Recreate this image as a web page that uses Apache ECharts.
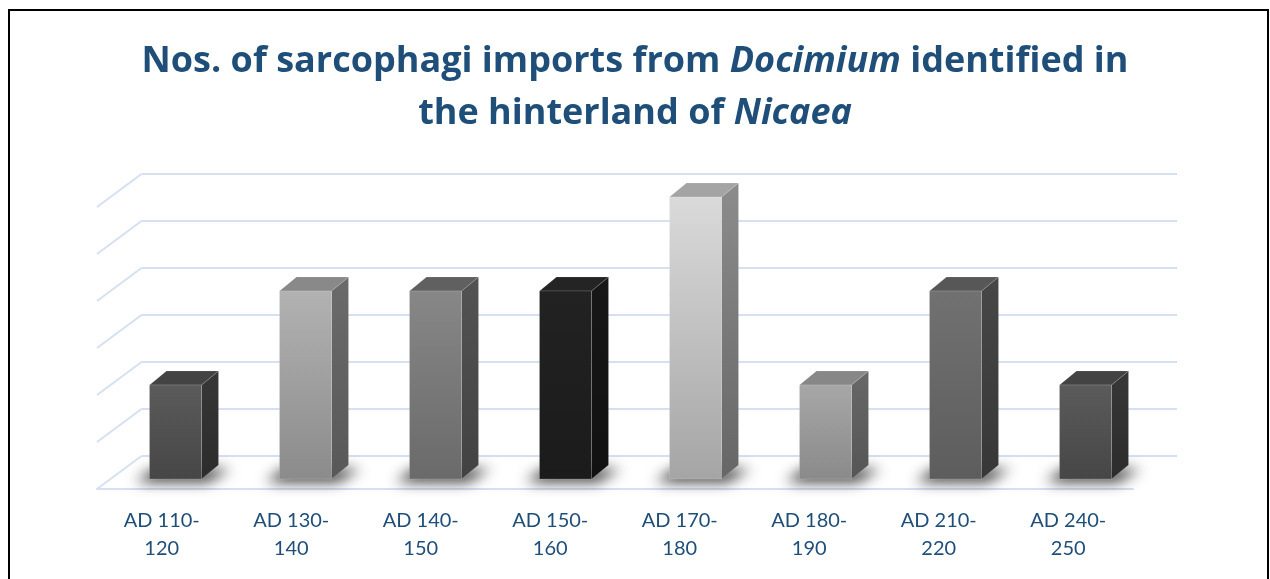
<!DOCTYPE html>
<html>
<head>
<meta charset="utf-8">
<script src="https://cdn.jsdelivr.net/npm/echarts@6/dist/echarts.min.js"></script>
<style>
  html, body { margin: 0; padding: 0; background: #ffffff; }
  #chart { width: 1270px; height: 579px; }
</style>
</head>
<body>
<div id="chart"></div>
<script>
// Periods (category axis) and number of imported sarcophagi per period
const periods = ['AD 110-\n120', 'AD 130-\n140', 'AD 140-\n150', 'AD 150-\n160',
                 'AD 170-\n180', 'AD 180-\n190', 'AD 210-\n220', 'AD 240-\n250'];
const imports = [2, 4, 4, 4, 6, 2, 4, 2];
const valueTicks = [0, 1, 2, 3, 4, 5, 6];

// Grey shades for the faces of each box: front gradient, side gradient, top
const shades = [
  { front: ['#5b5b5b', '#464646'], side: ['#373737', '#2c2c2c'], top: '#434343' },
  { front: ['#b2b2b2', '#8b8b8b'], side: ['#6b6b6b', '#585858'], top: '#898989' },
  { front: ['#878787', '#6a6a6a'], side: ['#535353', '#424242'], top: '#606060' },
  { front: ['#222222', '#1b1b1b'], side: ['#171717', '#111111'], top: '#242424' },
  { front: ['#dadada', '#a5a5a5'], side: ['#8c8c8c', '#666666'], top: '#a4a4a4' },
  { front: ['#a7a7a7', '#8a8a8a'], side: ['#686868', '#555555'], top: '#878787' },
  { front: ['#717171', '#5d5d5d'], side: ['#474747', '#373737'], top: '#575757' },
  { front: ['#5b5b5b', '#464646'], side: ['#373737', '#2c2c2c'], top: '#434343' }
];

const GRID_COLOR = '#d6e0f1';
const TEXT_COLOR = '#1f4e79';
const DEPTH_X = 17, DEPTH_Y = -14;     // box depth projection
const WALL_DX = -44.5, WALL_DY = 33;   // back wall -> front floor edge
const SHADOW_SHIFT = 3000;             // shadow caster is drawn off-canvas, only its blur lands on the floor

function vGrad(a, b) {
  return new echarts.graphic.LinearGradient(0, 0, 0, 1, [
    { offset: 0, color: a }, { offset: 1, color: b }
  ]);
}

const chart = echarts.init(document.getElementById('chart'), null, { renderer: 'canvas' });

chart.setOption({
  animation: false,
  backgroundColor: '#ffffff',
  title: {
    text: 'Nos. of sarcophagi imports from {i|Docimium} identified in\nthe hinterland of {i|Nicaea}',
    left: 'center',
    top: 31,
    textStyle: {
      fontFamily: 'Open Sans', fontWeight: 'bold', fontSize: 36, lineHeight: 52, color: TEXT_COLOR,
      rich: {
        i: { fontFamily: 'Open Sans', fontWeight: 'bold', fontStyle: 'italic', fontSize: 36, lineHeight: 52, color: TEXT_COLOR }
      }
    }
  },
  grid: [
    { left: 141.5, right: 93, top: 174, bottom: 123 },   // back wall
    { left: 110.5, right: 119.5, top: 197, bottom: 100 }, // front plane of the boxes
    { left: 97, right: 137, top: 207, bottom: 90 }        // front edge of the floor
  ],
  xAxis: [
    { type: 'category', gridIndex: 0, data: periods, show: false },
    { type: 'category', gridIndex: 1, data: periods, show: false },
    {
      type: 'category', gridIndex: 2, data: periods,
      axisLine: { show: true, lineStyle: { color: GRID_COLOR, width: 2 } },
      axisTick: { show: false },
      axisLabel: {
        interval: 0, margin: 18, color: TEXT_COLOR,
        fontFamily: 'Lato', fontSize: 20, lineHeight: 28, align: 'center'
      }
    }
  ],
  yAxis: [
    {
      type: 'value', gridIndex: 0, min: 0, max: 6, interval: 1,
      axisLine: { show: false }, axisTick: { show: false }, axisLabel: { show: false },
      splitLine: { show: true, lineStyle: { color: GRID_COLOR, width: 2 } }
    },
    { type: 'value', gridIndex: 1, min: 0, max: 6, interval: 1, show: false, splitLine: { show: false } },
    { type: 'value', gridIndex: 2, min: 0, max: 6, interval: 1, show: false, splitLine: { show: false } }
  ],
  graphic: [
    {
      type: 'rect', silent: true, z: 100,
      shape: { x: 9, y: 10, width: 1259, height: 640 },
      style: { fill: null, stroke: '#000000', lineWidth: 2 }
    }
  ],
  series: [
    {
      // side-wall grid lines running from the back wall to the floor edge
      type: 'custom', xAxisIndex: 0, yAxisIndex: 0, silent: true, z: 1,
      data: valueTicks.map(v => [0, v]),
      renderItem: function (params, api) {
        const p = api.coord([0, api.value(1)]);
        const x0 = params.coordSys.x;
        return {
          type: 'line',
          shape: { x1: x0, y1: p[1], x2: x0 + WALL_DX, y2: p[1] + WALL_DY },
          style: { stroke: GRID_COLOR, lineWidth: 2 }
        };
      }
    },
    {
      // 3D boxes
      type: 'custom', xAxisIndex: 1, yAxisIndex: 1, silent: true, z: 5,
      data: imports.map((v, i) => [i, v]),
      renderItem: function (params, api) {
        const s = shades[params.dataIndex];
        const base = api.coord([api.value(0), 0]);
        const top = api.coord([api.value(0), api.value(1)]);
        const w = api.size([1, 0])[0] * 0.4;
        const xL = base[0] - w / 2, xR = base[0] + w / 2;
        const yB = base[1], yT = top[1];
        const dx = DEPTH_X, dy = DEPTH_Y;
        const S = SHADOW_SHIFT;
        return {
          type: 'group',
          children: [
            {
              type: 'polygon',
              shape: { points: [[xL - 14 + S, yB + 3], [xR + 6 + S, yB + 3], [xR + dx + 12 + S, yB + dy + 4], [xL + dx - 12 + S, yB + dy + 4]] },
              style: { fill: '#000000', shadowBlur: 14, shadowColor: 'rgba(0,0,0,0.8)', shadowOffsetX: -S, shadowOffsetY: 0 }
            },
            {
              type: 'polygon',
              shape: { points: [[xR, yT], [xR + dx, yT + dy], [xR + dx, yB + dy], [xR, yB]] },
              style: { fill: vGrad(s.side[0], s.side[1]), stroke: 'rgba(255,255,255,0.12)', lineWidth: 1 }
            },
            {
              type: 'polygon',
              shape: { points: [[xL, yT], [xL + dx, yT + dy], [xR + dx, yT + dy], [xR, yT]] },
              style: { fill: s.top, stroke: 'rgba(255,255,255,0.12)', lineWidth: 1 }
            },
            {
              type: 'rect',
              shape: { x: xL, y: yT, width: w, height: yB - yT },
              style: { fill: vGrad(s.front[0], s.front[1]), stroke: 'rgba(255,255,255,0.15)', lineWidth: 1 }
            }
          ]
        };
      }
    }
  ]
});
</script>
</body>
</html>
